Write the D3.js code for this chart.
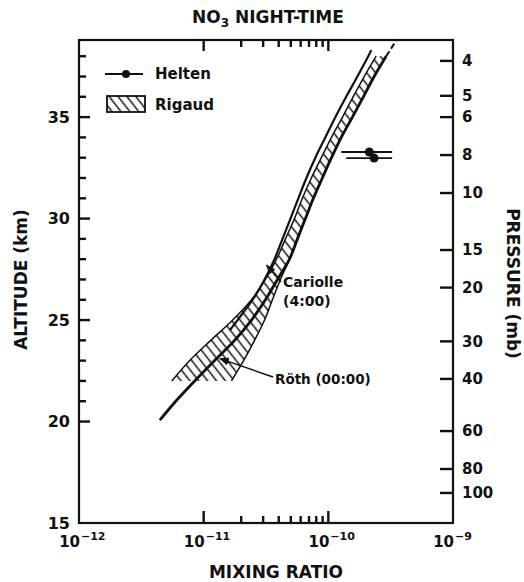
<!DOCTYPE html>
<html>
<head>
<meta charset="utf-8">
<script src="https://cdnjs.cloudflare.com/ajax/libs/d3/7.8.5/d3.min.js"></script>
<style>
  body { margin: 0; background: #fff; }
  svg text { font-family: "DejaVu Sans", sans-serif; font-weight: bold; fill: #111; }
  .axis path.domain { display: none; }
</style>
</head>
<body>
<div id="chart"></div>
<script>
var svgWidth = 524;
var svgHeight = 582;

var margin = { top: 40, right: 71, bottom: 59, left: 79 };
var width = svgWidth - margin.left - margin.right;
var height = svgHeight - margin.top - margin.bottom;

// Data
var altMajor = [15, 20, 25, 30, 35];
var altMinor = [21, 22, 23, 24, 26, 27, 28, 29, 31, 32, 33, 34, 36, 37, 38];
var pressureTicks = [4, 5, 6, 8, 10, 15, 20, 30, 40, 60, 80, 100];
var pressureAlt = [37.77, 36.05, 35.0, 33.13, 31.26, 28.45, 26.6, 23.95, 22.1, 19.53, 17.66, 16.48];
var mixLabels = [1e-12, 1e-11, 1e-10, 1e-9];
var mixMajor = [1e-11, 1e-10];
var mixMinor = [2e-11, 3e-11, 4e-11, 5e-11, 6e-11, 7e-11, 8e-11, 9e-11];

// Rigaud band
var rigaudAlt = [22, 23, 24, 25, 26, 27, 28, 29, 30, 31, 32, 33, 34, 35, 36, 37, 38];
var rigaudLow = [5.55e-12, 7.7e-12, 1.14e-11, 1.71e-11, 2.42e-11, 3.13e-11, 3.84e-11, 4.53e-11, 5.35e-11,
  6.19e-11, 7.31e-11, 8.79e-11, 1.06e-10, 1.30e-10, 1.58e-10, 1.94e-10, 2.42e-10];
var rigaudHigh = [1.67e-11, 2.09e-11, 2.56e-11, 3.08e-11, 3.56e-11, 4.13e-11, 4.88e-11, 5.65e-11, 6.55e-11,
  7.59e-11, 8.95e-11, 1.06e-10, 1.27e-10, 1.56e-10, 1.91e-10, 2.33e-10, 2.91e-10];

// Cariolle (4:00)
var cariolleAlt = [24.5, 25, 26, 27, 28, 29, 30, 31, 32, 33, 34, 35, 36, 37, 38, 38.3];
var cariolleMix = [1.62e-11, 1.87e-11, 2.47e-11, 3.08e-11, 3.70e-11, 4.29e-11, 4.97e-11, 5.75e-11,
  6.67e-11, 7.87e-11, 9.46e-11, 1.14e-10, 1.39e-10, 1.71e-10, 2.09e-10, 2.21e-10];

// Roth (00:00)
var rothAlt = [20.07, 21, 22, 23, 24, 25, 26, 27, 28, 29, 30, 31, 32, 33, 34, 35, 36, 37, 38];
var rothMix = [4.45e-12, 5.97e-12, 8.47e-12, 1.22e-11, 1.77e-11, 2.42e-11, 3.13e-11, 3.91e-11, 4.88e-11,
  5.65e-11, 6.55e-11, 7.59e-11, 8.95e-11, 1.06e-10, 1.27e-10, 1.56e-10, 1.91e-10, 2.33e-10, 2.91e-10];
var rothTopAlt = [38, 38.84];
var rothTopMix = [2.91e-10, 3.56e-10];

// Helten
var heltenAlt = [33.28, 32.98];
var heltenMix = [2.13e-10, 2.33e-10];
var heltenLow = [1.27e-10, 1.39e-10];
var heltenHigh = [3.25e-10, 3.25e-10];

var svg = d3.select("#chart")
  .append("svg")
  .attr("width", svgWidth)
  .attr("height", svgHeight);

var defs = svg.append("defs");
var hatch = defs.append("pattern")
  .attr("id", "hatch")
  .attr("patternUnits", "userSpaceOnUse")
  .attr("width", 7)
  .attr("height", 7)
  .attr("patternTransform", "rotate(-38)");
hatch.append("line")
  .attr("x1", 3.5).attr("y1", 0).attr("x2", 3.5).attr("y2", 7)
  .attr("stroke", "#111").attr("stroke-width", 1.5);

defs.append("marker")
  .attr("id", "arrow")
  .attr("viewBox", "0 0 10 10")
  .attr("refX", 9).attr("refY", 5)
  .attr("markerWidth", 7).attr("markerHeight", 7)
  .attr("orient", "auto")
  .append("path")
  .attr("d", "M0,1 L10,5 L0,9 Z")
  .attr("fill", "#111");

var chartGroup = svg.append("g")
  .attr("transform", `translate(${margin.left}, ${margin.top})`);

// Scales
var xLogScale = d3.scaleLog().domain([1e-12, 1e-9]).range([0, width]);
var yAltScale = d3.scaleLinear().domain([15, 38.8]).range([height, 0]);
var yPresScale = d3.scaleLog().domain(pressureTicks).range(pressureAlt.map(a => yAltScale(a)));

// Rigaud band
var band = rigaudAlt.map((a, i) => ({ alt: a, lo: rigaudLow[i], hi: rigaudHigh[i] }));
var bandArea = d3.area()
  .curve(d3.curveCatmullRom)
  .y(d => yAltScale(d.alt))
  .x0(d => xLogScale(d.lo))
  .x1(d => xLogScale(d.hi));

chartGroup.append("path")
  .datum(band)
  .attr("d", bandArea)
  .attr("fill", "url(#hatch)")
  .attr("stroke", "none");

var lineFromArrays = function (alts, mixes) {
  return alts.map((a, i) => ({ alt: a, mix: mixes[i] }));
};
var curve = d3.line()
  .curve(d3.curveCatmullRom)
  .x(d => xLogScale(d.mix))
  .y(d => yAltScale(d.alt));

// band edges
chartGroup.append("path")
  .datum(lineFromArrays(rigaudAlt, rigaudLow))
  .attr("d", curve)
  .attr("fill", "none").attr("stroke", "#111").attr("stroke-width", 1.5);
chartGroup.append("path")
  .datum(lineFromArrays(rigaudAlt, rigaudHigh))
  .attr("d", curve)
  .attr("fill", "none").attr("stroke", "#111").attr("stroke-width", 1.5);

// model curves
chartGroup.append("path")
  .datum(lineFromArrays(cariolleAlt, cariolleMix))
  .attr("d", curve)
  .attr("fill", "none").attr("stroke", "#111").attr("stroke-width", 2.2);
chartGroup.append("path")
  .datum(lineFromArrays(rothAlt, rothMix))
  .attr("d", curve)
  .attr("fill", "none").attr("stroke", "#111").attr("stroke-width", 2.8);
chartGroup.append("path")
  .datum(lineFromArrays(rothTopAlt, rothTopMix))
  .attr("d", curve)
  .attr("fill", "none").attr("stroke", "#111").attr("stroke-width", 2)
  .attr("stroke-dasharray", "6,3");

// Helten points
var helten = heltenAlt.map((a, i) => ({ alt: a, mix: heltenMix[i], lo: heltenLow[i], hi: heltenHigh[i] }));
chartGroup.selectAll(".errbar")
  .data(helten)
  .enter()
  .append("line")
  .attr("class", "errbar")
  .attr("x1", d => xLogScale(d.lo))
  .attr("x2", d => xLogScale(d.hi))
  .attr("y1", d => yAltScale(d.alt))
  .attr("y2", d => yAltScale(d.alt))
  .attr("stroke", "#111")
  .attr("stroke-width", 1.8);
chartGroup.selectAll(".helten")
  .data(helten)
  .enter()
  .append("circle")
  .attr("class", "helten")
  .attr("cx", d => xLogScale(d.mix))
  .attr("cy", d => yAltScale(d.alt))
  .attr("r", 4.5)
  .attr("fill", "#111");

// Frame
chartGroup.append("rect")
  .attr("width", width)
  .attr("height", height)
  .attr("fill", "none")
  .attr("stroke", "#111")
  .attr("stroke-width", 2.2);

// Tick marks, drawn inward
var tickLine = function (cls, values, x1, x2, y1, y2) {
  chartGroup.selectAll("." + cls)
    .data(values)
    .enter()
    .append("line")
    .attr("class", cls)
    .attr("x1", x1).attr("x2", x2)
    .attr("y1", y1).attr("y2", y2)
    .attr("stroke", "#111")
    .attr("stroke-width", 2.4);
};
tickLine("altMaj", altMajor.slice(1), 0, 11, d => yAltScale(d), d => yAltScale(d));
tickLine("altMin", altMinor, 0, 7, d => yAltScale(d), d => yAltScale(d));
tickLine("presTick", pressureTicks, width - 13, width, d => yPresScale(d), d => yPresScale(d));
tickLine("botMaj", mixMajor, d => xLogScale(d), d => xLogScale(d), height, height - 12);
tickLine("botMin", mixMinor, d => xLogScale(d), d => xLogScale(d), height, height - 7);
tickLine("topMaj", mixMajor, d => xLogScale(d), d => xLogScale(d), 0, 11);
tickLine("topMin", mixMinor, d => xLogScale(d), d => xLogScale(d), 0, 7);

// Axis labels
chartGroup.append("g")
  .attr("class", "axis")
  .call(d3.axisLeft(yAltScale).tickValues(altMajor).tickSize(0).tickPadding(9))
  .selectAll("text").style("font-size", "16px");

chartGroup.append("g")
  .attr("class", "axis")
  .attr("transform", `translate(${width}, 0)`)
  .call(d3.axisRight(yPresScale).tickValues(pressureTicks).tickSize(0)
    .tickPadding(9).tickFormat(d3.format("d")))
  .selectAll("text").style("font-size", "15px");

// power-of-ten labels
var expLabels = chartGroup.selectAll(".explabel")
  .data(mixLabels)
  .enter()
  .append("g")
  .attr("class", "explabel")
  .attr("transform", d => `translate(${xLogScale(d)}, ${height + 24})`);
expLabels.append("text")
  .attr("text-anchor", "end")
  .attr("x", 1)
  .style("font-size", "15px")
  .text("10");
expLabels.append("text")
  .attr("text-anchor", "start")
  .attr("x", 2)
  .attr("y", -7)
  .style("font-size", "11px")
  .text(d => "\u2212" + Math.round(-Math.log10(d)));

// Titles
svg.append("text")
  .attr("x", 268)
  .attr("y", 23)
  .attr("text-anchor", "middle")
  .style("font-size", "17px")
  .call(t => {
    t.append("tspan").text("NO");
    t.append("tspan").attr("dy", 4).style("font-size", "12px").text("3");
    t.append("tspan").attr("dy", -4).text(" NIGHT-TIME");
  });

chartGroup.append("text")
  .attr("transform", `translate(${-52}, ${height / 2 - 2}) rotate(-90)`)
  .attr("text-anchor", "middle")
  .style("font-size", "17px")
  .text("ALTITUDE (km)");

chartGroup.append("text")
  .attr("transform", `translate(${width + 54}, ${height / 2 + 2}) rotate(90)`)
  .attr("text-anchor", "middle")
  .style("font-size", "17px")
  .text("PRESSURE (mb)");

chartGroup.append("text")
  .attr("x", width / 2 + 10)
  .attr("y", height + 55)
  .attr("text-anchor", "middle")
  .style("font-size", "17px")
  .text("MIXING RATIO");

// Annotations
var cariolleTarget = { alt: 27.7, mix: 3.2e-11 };
var rothTarget = { alt: 23.1, mix: 1.35e-11 };

chartGroup.append("line")
  .attr("x1", 202).attr("y1", 242)
  .attr("x2", xLogScale(cariolleTarget.mix)).attr("y2", yAltScale(cariolleTarget.alt))
  .attr("stroke", "#111").attr("stroke-width", 1.4)
  .attr("marker-end", "url(#arrow)");
chartGroup.append("text")
  .attr("x", 204).attr("y", 247)
  .style("font-size", "14px")
  .text("Cariolle");
chartGroup.append("text")
  .attr("x", 204).attr("y", 266)
  .style("font-size", "14px")
  .text("(4:00)");

chartGroup.append("line")
  .attr("x1", 194).attr("y1", 337)
  .attr("x2", xLogScale(rothTarget.mix)).attr("y2", yAltScale(rothTarget.alt))
  .attr("stroke", "#111").attr("stroke-width", 1.4)
  .attr("marker-end", "url(#arrow)");
chartGroup.append("text")
  .attr("x", 196).attr("y", 344)
  .style("font-size", "13.5px")
  .text("Röth (00:00)");

// Legend
var legend = chartGroup.append("g").attr("transform", "translate(26, 0)");
legend.append("line")
  .attr("x1", 0).attr("x2", 38).attr("y1", 34).attr("y2", 34)
  .attr("stroke", "#111").attr("stroke-width", 1.8);
legend.append("circle")
  .attr("cx", 21).attr("cy", 34).attr("r", 4)
  .attr("fill", "#111");
legend.append("text")
  .attr("x", 50).attr("y", 39)
  .style("font-size", "15px")
  .text("Helten");
legend.append("rect")
  .attr("x", 2).attr("y", 56).attr("width", 38).attr("height", 16)
  .attr("fill", "url(#hatch)")
  .attr("stroke", "#111").attr("stroke-width", 1.8);
legend.append("text")
  .attr("x", 50).attr("y", 70)
  .style("font-size", "15px")
  .text("Rigaud");
</script>
</body>
</html>
